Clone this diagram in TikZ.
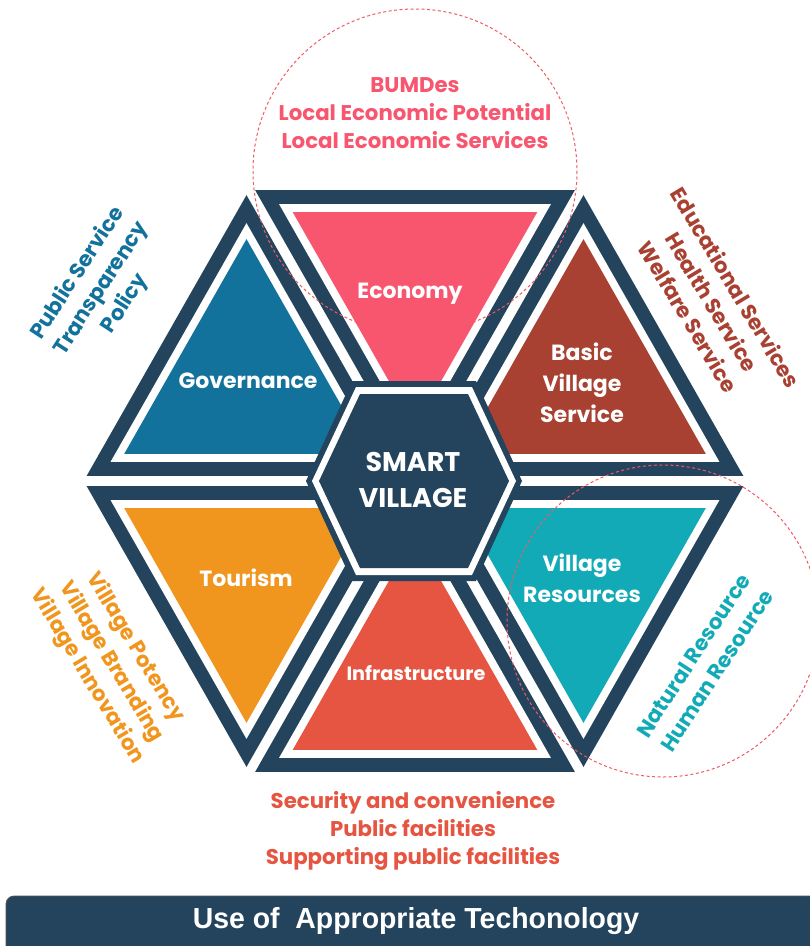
\documentclass[tikz,border=0pt]{standalone}
\usepackage{fontspec}
\setmainfont{Poppins}
\newfontfamily\barfont{Liberation Sans}
\usetikzlibrary{calc}
\definecolor{navy}{HTML}{23445C}
\definecolor{econ}{HTML}{F8566F}
\definecolor{basic}{HTML}{A84132}
\definecolor{res}{HTML}{13AAB7}
\definecolor{infra}{HTML}{E65541}
\definecolor{tour}{HTML}{F0961F}
\definecolor{gov}{HTML}{12729B}
\definecolor{dashred}{HTML}{F05A64}
\definecolor{bargray}{HTML}{555555}
\newcommand\mytri[4]{%
  \coordinate (G) at (barycentric cs:#1=1,#2=1,#3=1);
  \fill[navy] ($(G)!0.949!(#1)$) -- ($(G)!0.949!(#2)$) -- ($(G)!0.949!(#3)$) -- cycle;
  \fill[white] ($(G)!0.807!(#1)$) -- ($(G)!0.807!(#2)$) -- ($(G)!0.807!(#3)$) -- cycle;
  \fill[#4] ($(G)!0.726!(#1)$) -- ($(G)!0.726!(#2)$) -- ($(G)!0.726!(#3)$) -- cycle;
}
\newcommand\myhex[4]{%
  \fill[#4] ($(C)+(-#1,0)$) -- ($(C)+(-#2,-#3)$) -- ($(C)+(#2,-#3)$) -- ($(C)+(#1,0)$)
    -- ($(C)+(#2,#3)$) -- ($(C)+(-#2,#3)$) -- cycle;
}
\begin{document}
\begin{tikzpicture}[x=1pt,y=-1pt,
  outer/.style={font=\bfseries\fontsize{21.3}{28}\selectfont, align=center, inner sep=0pt},
  lab/.style={font=\bfseries\fontsize{22}{31}\selectfont, text=white, align=center, inner sep=0pt},
  dcirc/.style={draw=dashred, line width=1pt, dash pattern=on 3pt off 2.5pt}]
\useasboundingbox (0,0) rectangle (810,946);
\clip (0,0) rectangle (810,946);
\coordinate (O) at (415,481);
\coordinate (L) at (78,481);
\coordinate (R) at (752,481);
\coordinate (TL) at (246.5,185);
\coordinate (TR) at (583.5,185);
\coordinate (BL) at (246.5,777);
\coordinate (BR) at (583.5,777);
\coordinate (C) at (414,481);
% triangles
\mytri{O}{TL}{L}{gov}
\mytri{O}{TL}{TR}{econ}
\mytri{O}{TR}{R}{basic}
\mytri{O}{R}{BR}{res}
\mytri{O}{BR}{BL}{infra}
\mytri{O}{BL}{L}{tour}
% centre hexagon
\myhex{108}{62}{100}{navy}
\myhex{102}{58}{94}{white}
\myhex{95}{54}{87}{navy}
% dashed circles
\draw[dcirc] (415,171) circle[radius=162];
\draw[dcirc] (663,621) circle[radius=156];
% labels inside
\node[lab] (econlab) at (410,294) {Economy};
\node[lab] (govlab) at (248,381) {Governance};
\node[lab] (basiclab) at (582,383) {Basic\\Village\\Service};
\node[lab] (tourlab) at (246,578) {Tourism};
\node[lab] (reslab) at (582,578) {Village\\Resources};
\node[lab, font=\bfseries\fontsize{19.2}{20}\selectfont] (infralab) at (416,673) {Infrastructure};
\node[lab, font=\bfseries\fontsize{27}{36}\selectfont] (centre) at (413,480) {SMART\\VILLAGE};
% outer texts
\node[outer, text=econ] (econtext) at (415,113) {BUMDes\\Local Economic Potential\\Local Economic Services};
\node[outer, text=gov, rotate=57] (govtext) at (101.5,288.5) {Public Service\\Transparency\\Policy};
\node[outer, text=basic, rotate=-59] (basictext) at (712,302) {Educational Services\\Health Service\\Welfare Service};
\node[outer, text=tour, rotate=-59] (tourtext) at (111,662) {Village Potency\\Village Branding\\Village Innovation};
\node[outer, text=res, rotate=57] (restext) at (705,663) {Natural Resource\\Human Resource};
\node[outer, text=infra] (infratext) at (413,831) {Security and convenience\\Public facilities\\Supporting public facilities};
% bottom bar
\draw[bargray, fill=navy, line width=0.8pt, rounded corners=8] (6,896) rectangle (830,975);
\node[font=\barfont\bfseries\fontsize{29}{30}\selectfont, text=white, xscale=0.98, inner sep=0pt] (bar) at (416,921) {Use of~ Appropriate Techonology};
\end{tikzpicture}
\end{document}
